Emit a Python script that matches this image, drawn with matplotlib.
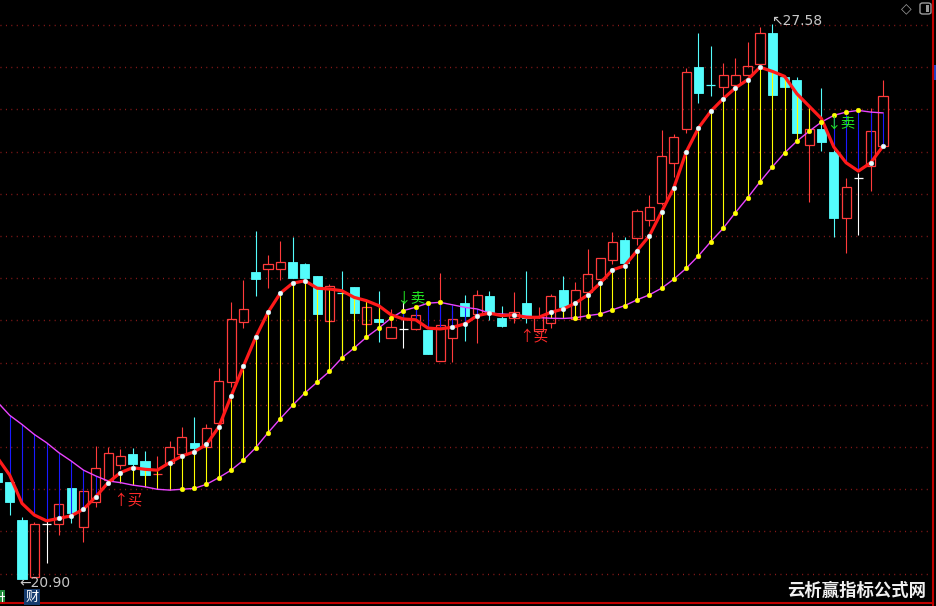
import matplotlib
matplotlib.use("Agg")
import matplotlib.pyplot as plt
import numpy as np
from matplotlib.patches import Rectangle, FancyBboxPatch
from matplotlib.lines import Line2D

# candles, index -1 is the one cut by the left edge
idx = np.arange(-1, 72)
opens = [22.18, 22.07, 21.61, 20.92, 21.56, 21.56, 22.00, 21.53, 21.83, 22.09,
         22.27, 22.40, 22.32, 22.16, 22.30, 22.40, 22.54, 22.49, 22.78, 23.27,
         23.99, 24.60, 24.63, 24.63, 24.72, 24.69, 24.55, 24.00, 24.34, 24.41,
         23.97, 24.03, 23.80, 23.91, 23.91, 23.90, 23.52, 23.80, 24.22, 24.09,
         24.31, 24.04, 24.04, 24.22, 23.89, 23.98, 24.38, 24.03, 24.35, 24.51,
         24.74, 24.98, 25.00, 25.22, 25.43, 25.91, 26.32, 27.06, 26.85, 26.82,
         26.85, 26.97, 27.10, 27.47, 26.94, 26.91, 26.12, 26.32, 26.04, 25.25,
         25.73, 25.87, 26.11]
highs = [22.24, 22.07, 21.65, 21.59, 21.60, 21.80, 22.00, 21.96, 22.50, 22.49,
         22.46, 22.48, 22.44, 22.38, 22.56, 22.73, 22.85, 22.77, 23.44, 24.23,
         24.50, 25.09, 24.80, 24.97, 25.02, 24.70, 24.55, 24.45, 24.61, 24.41,
         24.22, 24.37, 24.15, 24.25, 24.16, 23.90, 24.58, 24.14, 24.32, 24.38,
         24.37, 24.19, 24.35, 24.61, 24.17, 24.33, 24.55, 24.48, 24.87, 24.76,
         25.08, 25.02, 25.35, 25.52, 26.30, 26.26, 27.05, 27.47, 27.32, 27.11,
         27.17, 27.36, 27.54, 27.58, 26.94, 26.94, 26.61, 26.81, 26.06, 25.73,
         25.79, 26.57, 26.91]
lows = [21.97, 21.67, 20.90, 20.91, 21.09, 21.43, 21.57, 21.35, 21.77, 22.07,
        22.22, 22.22, 22.14, 22.14, 22.25, 22.39, 22.42, 22.48, 22.75, 23.21,
        23.92, 24.31, 24.40, 24.50, 24.52, 24.51, 24.09, 24.00, 23.54, 24.10,
        23.81, 23.75, 23.80, 23.68, 23.90, 23.61, 23.52, 23.51, 23.76, 23.74,
        24.02, 23.93, 23.98, 23.98, 23.89, 23.92, 24.05, 24.02, 24.33, 24.49,
        24.69, 24.67, 24.92, 25.15, 25.40, 25.74, 26.27, 26.63, 26.71, 26.70,
        26.79, 26.95, 27.08, 26.73, 26.81, 26.27, 25.44, 26.05, 25.02, 24.82,
        25.04, 25.57, 26.11]
closes = [22.07, 21.83, 20.90, 21.56, 21.56, 21.80, 21.69, 21.96, 22.24, 22.42,
          22.38, 22.28, 22.15, 22.16, 22.49, 22.61, 22.48, 22.72, 23.28, 24.03,
          24.15, 24.51, 24.69, 24.72, 24.52, 24.52, 24.09, 24.43, 24.34, 24.10,
          24.17, 23.99, 23.93, 23.91, 24.08, 23.61, 23.96, 24.03, 24.07, 24.32,
          24.11, 23.95, 24.11, 24.04, 24.05, 24.31, 24.17, 24.38, 24.57, 24.76,
          24.96, 24.70, 25.33, 25.38, 25.99, 26.22, 27.00, 26.75, 26.85, 26.97,
          26.97, 27.08, 27.47, 26.73, 26.82, 26.27, 26.32, 26.16, 25.25, 25.62,
          25.73, 26.29, 26.71]
# colour of the cross when open == close
doji_colors = {3: "white", 12: "red", 27: "cyan", 32: "white", 57: "cyan", 69: "white"}

# indicator lines: thick red and thin magenta
fast_line = [22.36, 22.15, 21.81, 21.67, 21.60, 21.63, 21.66, 21.74, 21.89, 22.06,
             22.18, 22.24, 22.22, 22.21, 22.30, 22.38, 22.43, 22.52, 22.73, 23.10,
             23.46, 23.81, 24.11, 24.34, 24.46, 24.49, 24.40, 24.39, 24.37, 24.29,
             24.25, 24.19, 24.08, 24.03, 24.02, 23.92, 23.91, 23.93, 23.97, 24.07,
             24.10, 24.07, 24.08, 24.05, 24.05, 24.11, 24.15, 24.22, 24.32, 24.46,
             24.62, 24.67, 24.85, 25.03, 25.32, 25.61, 26.04, 26.33, 26.53, 26.68,
             26.81, 26.91, 27.06, 27.01, 26.95, 26.74, 26.59, 26.44, 26.10, 25.91,
             25.81, 25.91, 26.11]
slow_line = [23.03, 22.87, 22.76, 22.64, 22.54, 22.42, 22.32, 22.21, 22.14, 22.08,
             22.06, 22.03, 22.01, 21.98, 21.97, 21.98, 21.99, 22.04, 22.12, 22.21,
             22.33, 22.48, 22.66, 22.83, 22.99, 23.14, 23.27, 23.40, 23.56, 23.68,
             23.81, 23.92, 24.04, 24.13, 24.17, 24.22, 24.23, 24.20, 24.17, 24.15,
             24.10, 24.09, 24.08, 24.065, 24.047, 24.038, 24.036, 24.044, 24.07, 24.09,
             24.14, 24.19, 24.26, 24.32, 24.40, 24.51, 24.64, 24.79, 24.96, 25.12,
             25.31, 25.49, 25.68, 25.86, 26.03, 26.17, 26.29, 26.40, 26.48, 26.52,
             26.54, 26.52, 26.51]

# signal tags: (x index, price)
buy_marks = [(9.6, 21.83), (42.6, 23.81)]
sell_marks = [(32.6, 24.27), (67.6, 26.38)]

RED = "#ff3b3b"
CYAN = "#54fcfc"
MAGENTA = "#ea44ff"

opens, highs, lows, closes = map(np.array, (opens, highs, lows, closes))
fast = np.array(fast_line)
slow = np.array(slow_line)

plt.rcParams['font.family'] = ['Noto Sans CJK SC', 'DejaVu Sans']

fig = plt.figure(figsize=(9.36, 6.06), dpi=100, facecolor="black")
ax = fig.add_axes([0, 0, 1, 1])
ax.set_facecolor("black")
ax.set_xlim(-0.7886, 75.309)
ax.set_ylim(20.575, 27.869)
ax.axis("off")

# dotted grid, evenly split like the trading software does
for lvl in 27.568 - 0.508 * np.arange(14):
    ax.axhline(lvl, xmin=0, xmax=933 / 936, color="#961c1c", lw=1,
               dashes=(0.7, 3.2), zorder=0)

hw = 0.366
for k, i in enumerate(idx):
    o, h, l, c = opens[k], highs[k], lows[k], closes[k]
    if i in doji_colors:
        col = {"white": "white", "red": RED, "cyan": CYAN}[doji_colors[i]]
        ax.vlines(i, l, h, color=col, lw=0.8, zorder=2)
        ax.hlines(o, i - hw, i + hw, color=col, lw=0.9, zorder=2)
    elif c > o:
        ax.vlines(i, c, h, color=RED, lw=0.8, zorder=2)
        ax.vlines(i, l, o, color=RED, lw=0.8, zorder=2)
        ax.add_patch(Rectangle((i - hw, o), 2 * hw, c - o, facecolor="none",
                               edgecolor=RED, lw=0.9, zorder=2))
    else:
        ax.vlines(i, l, h, color=CYAN, lw=0.8, zorder=2)
        ax.add_patch(Rectangle((i - hw, c), 2 * hw, o - c, facecolor=CYAN,
                               edgecolor=CYAN, lw=0.6, zorder=2))

# connectors between the two lines
vcol = np.where(fast > slow, "#ffff00", "#1a1aff")
ax.vlines(idx, slow, fast, colors=vcol, lw=0.8, zorder=3)

ax.plot(idx, slow, color=MAGENTA, lw=1.0, zorder=4)
ax.plot(idx, fast, color="#ff1a1a", lw=2.3, zorder=5)

# dots where a line is rising
up_fast = np.r_[False, fast[1:] > fast[:-1]]
up_slow = np.r_[False, slow[1:] > slow[:-1]]
ax.plot(idx[up_fast], fast[up_fast], "o", ms=3.4, color="#e8ffff",
        mec="#c8f0ff", mew=0.3, zorder=6)
ax.plot(idx[up_slow], slow[up_slow], "o", ms=3.4, color="#ffff00",
        mec="#ffff00", mew=0.3, zorder=6)

for bx, by in buy_marks:
    ax.text(bx, by, "↑买", color="#ff2a2a", fontsize=10.5, ha="center",
            va="center", zorder=7)
for sx, sy in sell_marks:
    ax.text(sx, sy, "↓卖", color="#22e622", fontsize=10.5, ha="center",
            va="center", zorder=7)

# high / low tags
k_hi = int(np.argmax(highs))
k_lo = int(np.argmin(lows))
ax.text(idx[k_hi] - 0.12, highs[k_hi] + 0.04, "↖%.2f" % highs[k_hi],
        color="#c8c8c8", fontsize=10, ha="left", va="center",
        family="DejaVu Sans", zorder=7)
ax.text(idx[k_lo] - 0.2, lows[k_lo] - 0.05, "←%.2f" % lows[k_lo],
        color="#c8c8c8", fontsize=10, ha="left", va="center",
        family="DejaVu Sans", zorder=7)

# frame lines
fig.add_artist(Line2D([933 / 936, 933 / 936], [0, 1], color="#c00000", lw=1.5,
                      transform=fig.transFigure))
fig.add_artist(Line2D([0, 933 / 936], [3 / 606, 3 / 606], color="#c00000", lw=1.5,
                      transform=fig.transFigure))
fig.add_artist(Rectangle((934 / 936, 1 - 80 / 606), 2 / 936, 15 / 606,
                         facecolor="#2040c0", transform=fig.transFigure))

# small icons
fig.text(906 / 936, 1 - 8 / 606, "◇", color="#9a9a9a", fontsize=10,
         ha="center", va="center", family="DejaVu Sans")
fig.add_artist(FancyBboxPatch((920 / 936, 1 - 14 / 606), 11 / 936, 11 / 606,
                              boxstyle="round,pad=0,rounding_size=0.003",
                              facecolor="none", edgecolor="#9a9a9a", lw=1,
                              transform=fig.transFigure))
fig.add_artist(Rectangle((926 / 936, 1 - 12 / 606), 3 / 936, 7 / 606,
                         facecolor="#9a9a9a", transform=fig.transFigure))

fig.text(32 / 936, 1 - 597 / 606, "财", color="white", fontsize=9.5,
         ha="center", va="center",
         bbox=dict(facecolor="#163c6e", edgecolor="none", pad=1.2))
# tab cut by the left edge: green box with a sliver of its glyph
fig.add_artist(Rectangle((0, 1 - 604 / 606), 5 / 936, 14 / 606,
                         facecolor="#1e8a3a", transform=fig.transFigure))
fig.add_artist(Line2D([2 / 936, 2 / 936], [1 - 601 / 606, 1 - 592 / 606],
                      color="white", lw=0.8, transform=fig.transFigure))
fig.add_artist(Line2D([0, 4 / 936], [1 - 596 / 606, 1 - 596 / 606],
                      color="white", lw=0.8, transform=fig.transFigure))

fig.text(857 / 936, 1 - 591 / 606, "云析赢指标公式网", color="#f0f0f0",
         fontsize=12.5, fontweight="bold", ha="center", va="center")

fig.savefig("out.png", dpi=100, facecolor="black")
